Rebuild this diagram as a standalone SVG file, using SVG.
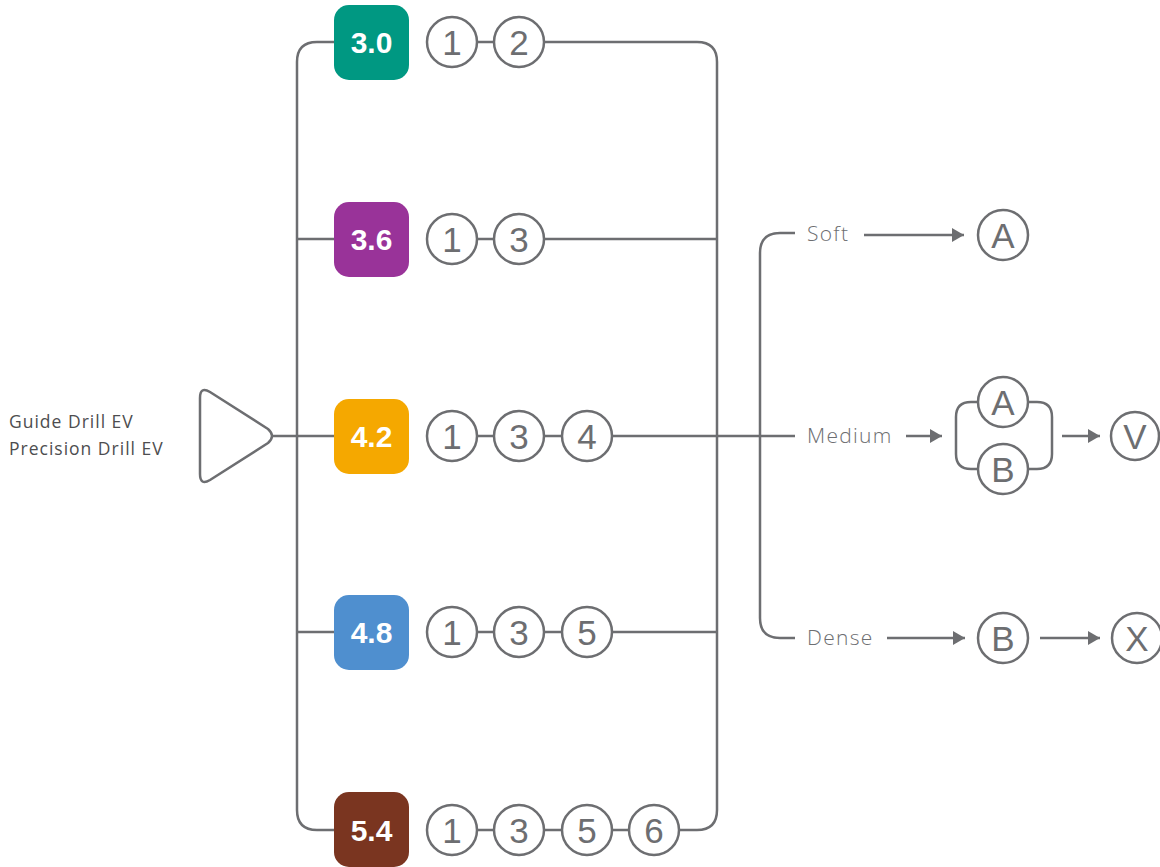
<svg xmlns="http://www.w3.org/2000/svg" width="1160" height="867" viewBox="0 0 1160 867">
<defs>
<marker id="ahb" viewBox="0 0 12 14" refX="12" refY="7" markerWidth="12" markerHeight="14" markerUnits="userSpaceOnUse" orient="auto">
<path d="M0,0 L12,7 L0,14 Z" fill="#6d6e71"/>
</marker>
</defs>
<style>
.ln{fill:none;stroke:#6d6e71;stroke-width:2.5;stroke-linejoin:round}
.c{fill:#fff;stroke:#6d6e71;stroke-width:2.5}
.ct{font-family:"Liberation Sans",Arial,sans-serif;font-weight:normal;font-size:35px;fill:#6d6e71;text-anchor:middle}
.bt{font-family:"Liberation Sans",Arial,sans-serif;font-weight:bold;font-size:30px;fill:#fff;text-anchor:middle}
.lb{font-family:"Open Sans","Liberation Sans",sans-serif;font-weight:300;font-size:21px;letter-spacing:1.3px;fill:#6d6e71}
.in{font-family:"Open Sans","Liberation Sans",sans-serif;font-weight:400;font-size:17.5px;letter-spacing:1px;fill:#4d4d4f}
</style>
<g id="connectors">
<path class="ln" d="M273,436 H334"/>
<path class="ln" d="M334,42 H317 Q297,42 297,62 V810 Q297,830 317,830 H334"/>
<path class="ln" d="M297,239 H334 M297,632 H334"/>
<path class="ln" d="M477,42 H494 M544,42 H697 Q717,42 717,62 V810 Q717,830 697,830 H679"/>
<path class="ln" d="M477,239 H494 M544,239 H717"/>
<path class="ln" d="M477,436 H494 M544,436 H562 M612,436 H795"/>
<path class="ln" d="M477,632 H494 M544,632 H562 M612,632 H717"/>
<path class="ln" d="M477,830 H494 M544,830 H562 M612,830 H629"/>
<path class="ln" d="M795,233 H780 Q760,233 760,253 V618 Q760,638 780,638 H795"/>
<path class="ln" d="M864,235 H964" marker-end="url(#ahb)"/>
<path class="ln" d="M906,436 H942" marker-end="url(#ahb)"/>
<path class="ln" d="M978,402 H971 Q956,402 956,417 V454 Q956,469 971,469 H978"/>
<path class="ln" d="M1028,402 H1037 Q1052,402 1052,417 V454 Q1052,469 1037,469 H1028"/>
<path class="ln" d="M1062,436 H1100" marker-end="url(#ahb)"/>
<path class="ln" d="M887,638 H965" marker-end="url(#ahb)"/>
<path class="ln" d="M1040,638 H1100" marker-end="url(#ahb)"/>
</g>
<g id="input">
<path class="ln" d="M200,398 Q200,386 210,392 L268,429 Q276,436 268,443 L210,480 Q200,486 200,474 Z"/>
<text class="in" x="9" y="428">Guide Drill EV</text>
<text class="in" x="9" y="455">Precision Drill EV</text>
</g>
<g id="row30">
<rect x="334" y="5" width="75" height="75" rx="15" fill="#009882"/>
<text class="bt" x="371.5" y="53">3.0</text>
<circle class="c" cx="452" cy="42" r="25"/><text class="ct" x="452" y="55">1</text>
<circle class="c" cx="519" cy="42" r="25"/><text class="ct" x="519" y="55">2</text>
</g>
<g id="row36">
<rect x="334" y="202" width="75" height="75" rx="15" fill="#993399"/>
<text class="bt" x="371.5" y="250">3.6</text>
<circle class="c" cx="452" cy="239" r="25"/><text class="ct" x="452" y="252">1</text>
<circle class="c" cx="519" cy="239" r="25"/><text class="ct" x="519" y="252">3</text>
</g>
<g id="row42">
<rect x="334" y="399" width="75" height="75" rx="15" fill="#f5a800"/>
<text class="bt" x="371.5" y="447">4.2</text>
<circle class="c" cx="452" cy="436" r="25"/><text class="ct" x="452" y="449">1</text>
<circle class="c" cx="519" cy="436" r="25"/><text class="ct" x="519" y="449">3</text>
<circle class="c" cx="587" cy="436" r="25"/><text class="ct" x="587" y="449">4</text>
</g>
<g id="row48">
<rect x="334" y="595" width="75" height="75" rx="15" fill="#4f8fcf"/>
<text class="bt" x="371.5" y="643">4.8</text>
<circle class="c" cx="452" cy="632" r="25"/><text class="ct" x="452" y="645">1</text>
<circle class="c" cx="519" cy="632" r="25"/><text class="ct" x="519" y="645">3</text>
<circle class="c" cx="587" cy="632" r="25"/><text class="ct" x="587" y="645">5</text>
</g>
<g id="row54">
<rect x="334" y="792" width="75" height="75" rx="15" fill="#7a3520"/>
<text class="bt" x="371.5" y="841">5.4</text>
<circle class="c" cx="452" cy="830" r="25"/><text class="ct" x="452" y="843">1</text>
<circle class="c" cx="519" cy="830" r="25"/><text class="ct" x="519" y="843">3</text>
<circle class="c" cx="587" cy="830" r="25"/><text class="ct" x="587" y="843">5</text>
<circle class="c" cx="654" cy="830" r="25"/><text class="ct" x="654" y="843">6</text>
</g>
<g id="soft">
<text class="lb" x="807" y="241">Soft</text>
<circle class="c" cx="1003" cy="235" r="25"/><text class="ct" x="1003" y="248">A</text>
</g>
<g id="medium">
<text class="lb" x="807" y="443">Medium</text>
<circle class="c" cx="1003" cy="402" r="25"/><text class="ct" x="1003" y="415">A</text>
<circle class="c" cx="1003" cy="469" r="25"/><text class="ct" x="1003" y="482">B</text>
<circle class="c" cx="1135" cy="436" r="24"/><text class="ct" x="1135" y="449">V</text>
</g>
<g id="dense">
<text class="lb" x="807" y="645">Dense</text>
<circle class="c" cx="1003" cy="638" r="25"/><text class="ct" x="1003" y="651">B</text>
<circle class="c" cx="1137" cy="638" r="25"/><text class="ct" x="1137" y="651">X</text>
</g>
</svg>
